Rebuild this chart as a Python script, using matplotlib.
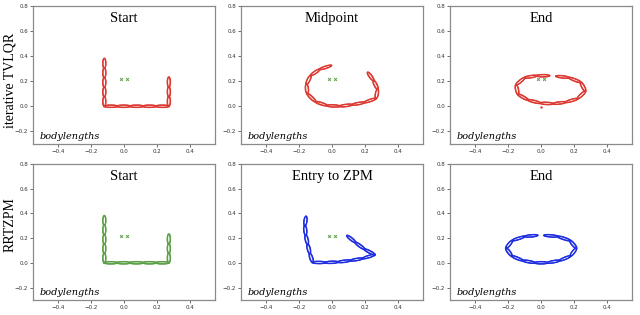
import numpy as np
import matplotlib
matplotlib.use("Agg")
import matplotlib.pyplot as plt
from matplotlib.patches import Ellipse

# joint positions of the snake chain in each panel (bodylengths)
start_x = [-0.12, -0.12, -0.12, -0.12, -0.12, -0.12, -0.042, 0.036, 0.114, 0.192, 0.27, 0.27, 0.27, 0.27]
start_y = [0.38, 0.304, 0.228, 0.152, 0.076, 0.0, 0.0, 0.0, 0.0, 0.0, 0.0, 0.077, 0.154, 0.231]

mid_x = [-0.005, -0.075, -0.13, -0.155, -0.15, -0.10, -0.03, 0.045, 0.12, 0.195, 0.265, 0.275, 0.25, 0.215]
mid_y = [0.325, 0.295, 0.245, 0.175, 0.10, 0.035, 0.005, 0.0, 0.012, 0.03, 0.062, 0.135, 0.205, 0.27]

end1_x = [0.05, -0.027, -0.10, -0.152, -0.14, -0.08, -0.005, 0.072, 0.148, 0.22, 0.267, 0.24, 0.168, 0.09]
end1_y = [0.243, 0.243, 0.228, 0.17, 0.095, 0.05, 0.025, 0.02, 0.032, 0.06, 0.12, 0.19, 0.228, 0.24]

entry_x = [-0.158, -0.165, -0.16, -0.148, -0.135, -0.118, -0.042, 0.035, 0.11, 0.185, 0.258, 0.195, 0.14, 0.09]
entry_y = [0.375, 0.30, 0.225, 0.15, 0.075, 0.003, 0.002, 0.006, 0.018, 0.035, 0.065, 0.11, 0.165, 0.22]

end2_x = [-0.022, -0.10, -0.175, -0.212, -0.178, -0.112, -0.038, 0.038, 0.112, 0.178, 0.212, 0.175, 0.10, 0.018]
end2_y = [0.222, 0.213, 0.18, 0.118, 0.055, 0.018, 0.0, 0.0, 0.018, 0.055, 0.118, 0.18, 0.213, 0.222]

# target markers
goal_x = [-0.02, 0.02]
goal_y = [0.22, 0.22]

red = "#dc3a32"
green = "#5d9f47"
blue = "#1f2fe0"

panels = [
    # title, xs, ys, color, show goal, extra dot
    ("Start", start_x, start_y, red, True, None),
    ("Midpoint", mid_x, mid_y, red, True, None),
    ("End", end1_x, end1_y, red, True, (0.0, -0.005)),
    ("Start", start_x, start_y, green, True, None),
    ("Entry to ZPM", entry_x, entry_y, blue, True, None),
    ("End", end2_x, end2_y, blue, False, None),
]

fig = plt.figure(figsize=(6.4, 3.15), dpi=100)
W, H = 640.0, 315.0
lefts = [33, 241, 450]
rows = [(6, 144), (164, 300)]


def draw_chain(ax, xs, ys, color):
    for i in range(len(xs) - 1):
        x0, y0, x1, y1 = xs[i], ys[i], xs[i + 1], ys[i + 1]
        length = np.hypot(x1 - x0, y1 - y0)
        ang = np.degrees(np.arctan2(y1 - y0, x1 - x0))
        for off in (0.0, 0.004):
            e = Ellipse(((x0 + x1) / 2 + off * 0.5, (y0 + y1) / 2 + off * 0.5), length * 1.05, 0.018,
                        angle=ang, fill=False, edgecolor=color, lw=0.9)
            ax.add_patch(e)


for k, (title, xs, ys, color, goal, dot) in enumerate(panels):
    r, c = divmod(k, 3)
    top, bot = rows[r]
    ax = fig.add_axes([lefts[c] / W, 1 - bot / H, 182 / W, (bot - top) / H])
    ax.set_xlim(-0.55, 0.55)
    ax.set_ylim(-0.3, 0.8)
    ax.set_xticks([-0.4, -0.2, 0.0, 0.2, 0.4])
    ax.set_yticks([-0.2, 0.0, 0.2, 0.4, 0.6, 0.8])
    ax.tick_params(labelsize=4, length=2, width=0.5, pad=1.5, colors="#333333")
    for s in ax.spines.values():
        s.set_color("#8a8a8a")
        s.set_linewidth(0.9)
    draw_chain(ax, xs, ys, color)
    if goal:
        ax.plot(goal_x, goal_y, "x", color=green, ms=2, mew=0.7)
    if dot is not None:
        ax.plot([dot[0]], [dot[1]], ".", color=red, ms=1.5)
    ax.text(0.5, 0.91, title, transform=ax.transAxes, ha="center", va="center",
            family="Liberation Serif", fontsize=10.5)
    ax.text(0.035, 0.055, "bodylengths", transform=ax.transAxes, ha="left", va="center",
            family="DejaVu Serif", style="italic", fontsize=7)

fig.text(10 / W, 1 - 80 / H, "iterative TVLQR", rotation=90, ha="center", va="center",
         family="Liberation Serif", fontsize=10)
fig.text(10 / W, 1 - 225 / H, "RRTZPM", rotation=90, ha="center", va="center",
         family="Liberation Serif", fontsize=10)

fig.savefig("out.png", dpi=100)
